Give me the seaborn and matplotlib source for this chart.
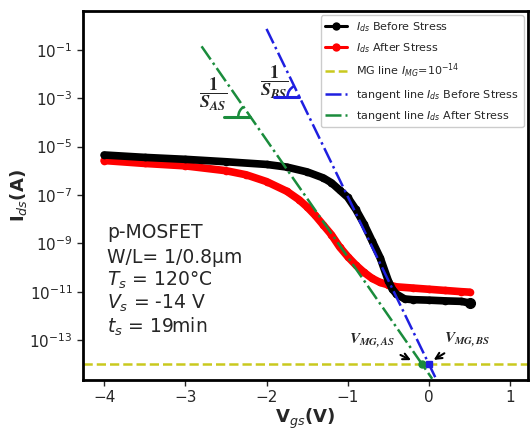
import numpy as np
import pandas as pd
import matplotlib
matplotlib.use("Agg")
import matplotlib.pyplot as plt
import matplotlib.transforms as mtransforms
from matplotlib.patches import Arc
from matplotlib.ticker import NullLocator
import seaborn as sns

# ---- data (Vgs in V, log10(Ids) in A) ----
vgs_before = [-4.0, -3.5, -3.0, -2.5, -2.0, -1.75, -1.5, -1.3, -1.2, -1.1, -1.0,
              -0.9, -0.8, -0.7, -0.6, -0.5, -0.45, -0.4, -0.3, -0.2, 0.0, 0.2, 0.4, 0.5]
log_ids_before = [-5.35, -5.45, -5.53, -5.63, -5.74, -5.85, -6.05, -6.3, -6.5, -6.8, -7.1,
                  -7.6, -8.2, -8.9, -9.6, -10.55, -10.9, -11.1, -11.3, -11.33, -11.35, -11.38, -11.4, -11.47]

vgs_after = [-4.0, -3.5, -3.0, -2.5, -2.25, -2.0, -1.75, -1.6, -1.5, -1.4, -1.3, -1.2,
             -1.1, -1.0, -0.9, -0.8, -0.7, -0.6, -0.5, -0.4, -0.2, 0.0, 0.2, 0.4, 0.5]
log_ids_after = [-5.58, -5.7, -5.8, -6.0, -6.17, -6.45, -6.85, -7.2, -7.5, -7.85, -8.25, -8.65,
                 -9.15, -9.55, -9.9, -10.2, -10.45, -10.62, -10.72, -10.8, -10.85, -10.9, -10.95, -11.0, -11.02]

tangent_bs_x = [-2.0, 0.08]
tangent_bs_log = [-0.14, -14.55]
tangent_as_x = [-2.8, 0.04]
tangent_as_log = [-0.86, -14.6]

i_mg = 1e-14
v_mg_bs = 0.0
v_mg_as = -0.085

slope_bs_point = (-1.594, -2.95)   # where the 1/S_BS marker sits on the tangent
slope_as_point = (-2.2, -3.77)     # where the 1/S_AS marker sits on the tangent

ytick_exps = [-13, -11, -9, -7, -5, -3, -1]
xticks = [-4, -3, -2, -1, 0, 1]

info_lines = ["p-MOSFET", "W/L= 1/0.8\u03bcm", r"$T_s$ = 120°C", r"$V_s$ = -14 V", r"$t_s$ = 19min"]

# ---- style ----
sns.set_style("ticks")
plt.rcParams["font.family"] = ["DejaVu Sans"]
plt.rcParams["mathtext.fontset"] = "dejavusans"

BLUE = "#1f1fe0"
GREEN = "#1a8c3c"
YELLOW = "#c9c91e"

fig = plt.figure(figsize=(5.3, 4.3), dpi=100)
ax = fig.add_axes([83 / 530, 50 / 430, (528 - 83) / 530, 369 / 430])
ax.set_yscale("log")

df_b = pd.DataFrame({"Vgs": vgs_before, "Ids": 10.0 ** np.array(log_ids_before)})
df_a = pd.DataFrame({"Vgs": vgs_after, "Ids": 10.0 ** np.array(log_ids_after)})

sns.lineplot(data=df_b, x="Vgs", y="Ids", ax=ax, color="black", lw=5.5, marker="o",
             markersize=5.5, markeredgewidth=0, label=r"$I_{ds}$ Before Stress", zorder=4)
sns.lineplot(data=df_a, x="Vgs", y="Ids", ax=ax, color="red", lw=5.5, marker="o",
             markersize=5.5, markeredgewidth=0, label=r"$I_{ds}$ After Stress", zorder=3)
ax.plot([vgs_before[-1]], [10.0 ** log_ids_before[-1]], "o", color="black", ms=7, zorder=4)

ax.axhline(i_mg, color=YELLOW, ls="--", lw=1.8, label=r"MG line $I_{MG}$=10$^{-14}$", zorder=2)

sns.lineplot(x=tangent_bs_x, y=10.0 ** np.array(tangent_bs_log), ax=ax, color=BLUE,
             lw=1.8, linestyle="-.", label=r"tangent line $I_{ds}$ Before Stress", zorder=5)
sns.lineplot(x=tangent_as_x, y=10.0 ** np.array(tangent_as_log), ax=ax, color=GREEN,
             lw=1.8, linestyle="-.", label=r"tangent line $I_{ds}$ After Stress", zorder=5)

ax.plot([v_mg_as], [i_mg], "o", color=GREEN, ms=5, zorder=6)
ax.plot([v_mg_bs], [i_mg], "s", color=BLUE, ms=5, zorder=6)

ax.set_xlim(-4.26, 1.22)
ax.set_ylim(10 ** -14.65, 10 ** 0.6)
ax.set_xticks(xticks)
ax.set_yticks([10.0 ** e for e in ytick_exps])
ax.yaxis.set_minor_locator(NullLocator())
ax.tick_params(labelsize=11, length=4, width=1, direction="out")
for s in ax.spines.values():
    s.set_linewidth(2)
    s.set_color("black")

ax.set_xlabel(r"$\mathbf{V}_{gs}$(V)", fontsize=13, fontweight="bold", labelpad=1)
ax.set_ylabel(r"$\mathbf{I}_{ds}$(A)", fontsize=13, fontweight="bold", labelpad=0)

# info text block
ys = [0.401, 0.333, 0.271, 0.209, 0.144]
for t, yy in zip(info_lines, ys):
    ax.text(0.054, yy, t, transform=ax.transAxes, fontsize=13.5, ha="left", va="center")

# slope markers (horizontal leg + angle arc)
def slope_marker(pt, line_x, line_log, color, length=0.32, r=12):
    x0, lg = pt
    ax.plot([x0 - length, x0], [10 ** lg, 10 ** lg], color=color, lw=2.2, zorder=5)
    p = ax.transData.transform((x0, 10 ** lg))
    q = ax.transData.transform((line_x[0], 10 ** line_log[0]))
    ang = np.degrees(np.arctan2(q[1] - p[1], q[0] - p[0]))
    arc = Arc(p, 2 * r, 2 * r, theta1=ang, theta2=180, color=color, lw=1.8,
              transform=mtransforms.IdentityTransform())
    ax.add_patch(arc)

slope_marker(slope_as_point, tangent_as_x, tangent_as_log, GREEN)
slope_marker(slope_bs_point, tangent_bs_x, tangent_bs_log, BLUE)

ax.text(-2.65, 10 ** -2.86, r"$\dfrac{\mathbf{1}}{\mathbfit{S}_{\mathbfit{AS}}}$", fontsize=13,
        ha="center", va="center", math_fontfamily="stix")
ax.text(-1.90, 10 ** -2.37, r"$\dfrac{\mathbf{1}}{\mathbfit{S}_{\mathbfit{BS}}}$", fontsize=13,
        ha="center", va="center", math_fontfamily="stix")

ax.annotate(r"$\mathbfit{V}_{\mathbfit{MG,AS}}$", xy=(-0.19, 10 ** -13.88), xytext=(-0.70, 10 ** -13.04),
            ha="center", va="center", fontsize=11, math_fontfamily="stix",
            arrowprops=dict(arrowstyle="->", color="black", lw=1.5))
ax.annotate(r"$\mathbfit{V}_{\mathbfit{MG,BS}}$", xy=(0.03, 10 ** -13.88), xytext=(0.47, 10 ** -12.96),
            ha="center", va="center", fontsize=11, math_fontfamily="stix",
            arrowprops=dict(arrowstyle="->", color="black", lw=1.5))

leg = ax.legend(loc="upper right", fontsize=8, labelspacing=0.65, handlelength=2.0,
                borderaxespad=0.4, framealpha=1)
for ln in leg.get_lines()[:2]:
    ln.set_linewidth(2.2)
    ln.set_markersize(6)

fig.savefig("out.png", dpi=100)
